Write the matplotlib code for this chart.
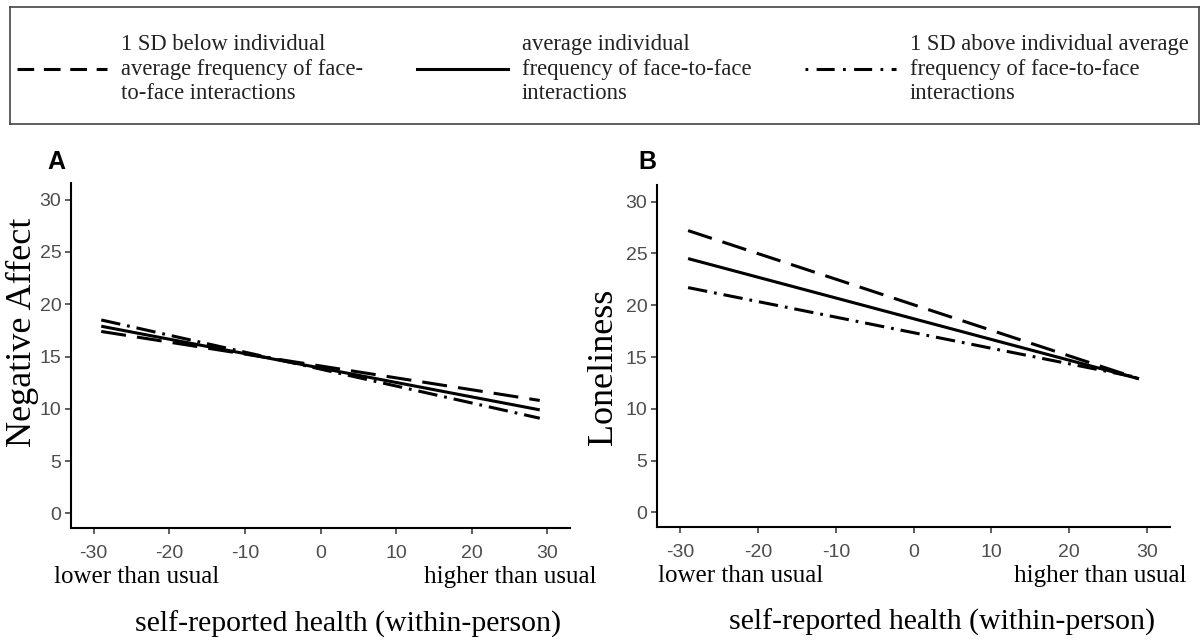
import numpy as np
import matplotlib
matplotlib.use("Agg")
import matplotlib.pyplot as plt
from matplotlib.lines import Line2D

plt.rcParams['axes.unicode_minus'] = False
plt.rcParams['lines.scale_dashes'] = False

# data (simple slopes, endpoints at x = -29 and 29)
health = [-29, 29]
neg_below = [17.4, 10.8]
neg_avg = [17.9, 9.9]
neg_above = [18.5, 9.1]
lone_below = [27.2, 12.9]
lone_avg = [24.5, 12.9]
lone_above = [21.7, 13.0]

xticks = [-30, -20, -10, 0, 10, 20, 30]
yticks = [0, 5, 10, 15, 20, 25, 30]

legend_labels = ["1 SD below individual\naverage frequency of face-\nto-face interactions",
                 "average individual\nfrequency of face-to-face\ninteractions",
                 "1 SD above individual average\nfrequency of face-to-face\ninteractions"]

serif = "Liberation Serif"
sans = "Liberation Sans"
lw = 2.2
dash = (0, (18, 8))
dashdot = (0, (14, 5, 2, 5))

fig = plt.figure(figsize=(12.04, 6.42), dpi=100)
W, H = 1204, 642

def box(l, t, r, b):
    return [l / W, 1 - b / H, (r - l) / W, (b - t) / H]

ax_a = fig.add_axes(box(71, 183, 570, 528))
ax_b = fig.add_axes(box(657, 185, 1170, 527))

panels = [
    (ax_a, neg_below, neg_avg, neg_above, "Negative Affect", (-0.098, 0.568), (-0.034, 1.054)),
    (ax_b, lone_below, lone_avg, lone_above, "Loneliness", (-0.105, 0.468), (0.002, 1.033)),
]

for ax, below, avg, above, ylab, ylab_pos, lr_pos in panels:
    ax.plot(health, below, color="black", lw=lw, linestyle=dash, solid_capstyle="butt", dash_capstyle="butt")
    ax.plot(health, avg, color="black", lw=lw, linestyle="-", solid_capstyle="butt")
    ax.plot(health, above, color="black", lw=lw, linestyle=dashdot, dash_capstyle="butt")

    ax.set_xlim(-33, 33)
    ax.set_ylim(-1.4, 31.6)
    ax.set_xticks(xticks)
    ax.set_yticks(yticks)
    for s in ["top", "right"]:
        ax.spines[s].set_visible(False)
    for s in ["left", "bottom"]:
        ax.spines[s].set_linewidth(1.5)
    ax.tick_params(length=4, width=1.1, color="#333333", labelcolor="#4D4D4D")
    ax.tick_params(axis="x", pad=8)
    ax.tick_params(axis="y", pad=3)
    for t in ax.get_xticklabels() + ax.get_yticklabels():
        t.set_fontfamily(sans)
        t.set_fontsize(14)

    ax.text(ylab_pos[0], ylab_pos[1], ylab, rotation=90, ha="center", va="center",
            transform=ax.transAxes, family=serif, fontsize=26)
    ax.text(lr_pos[0], -0.143, "lower than usual", ha="left", va="center",
            transform=ax.transAxes, family=serif, fontsize=18)
    ax.text(lr_pos[1], -0.143, "higher than usual", ha="right", va="center",
            transform=ax.transAxes, family=serif, fontsize=18)
    ax.text(0.555, -0.28, "self-reported health (within-person)", ha="center", va="center",
            transform=ax.transAxes, family=serif, fontsize=21.5)

fig.text(56 / W, 1 - 162 / H, "A", ha="center", va="center", family=sans, fontweight="bold", fontsize=18)
fig.text(647 / W, 1 - 162 / H, "B", ha="center", va="center", family=sans, fontweight="bold", fontsize=18)

# legend box on top
ax_leg = fig.add_axes(box(10, 7, 1199, 124))
ax_leg.set_xticks([])
ax_leg.set_yticks([])
for s in ax_leg.spines.values():
    s.set_color("#444444")
    s.set_linewidth(1.2)
handles = [
    Line2D([], [], color="black", lw=2.2, linestyle=(0, (12, 7)), dash_capstyle="butt"),
    Line2D([], [], color="black", lw=2.2, linestyle="-"),
    Line2D([], [], color="black", lw=2.2, linestyle=(0, (2, 6, 13, 6)), dash_capstyle="butt"),
]
leg = ax_leg.legend(handles, legend_labels, ncol=3, loc="center left",
                    bbox_to_anchor=(0, -0.03, 1, 1), frameon=False, borderaxespad=0,
                    borderpad=0.3, handlelength=4.0, handletextpad=0.6, columnspacing=2.4,
                    prop={"family": serif, "size": 16.3})
for t in leg.get_texts():
    t.set_color("#222222")
    t.set_linespacing(1.22)

fig.savefig("out.png", dpi=100, facecolor="white")
